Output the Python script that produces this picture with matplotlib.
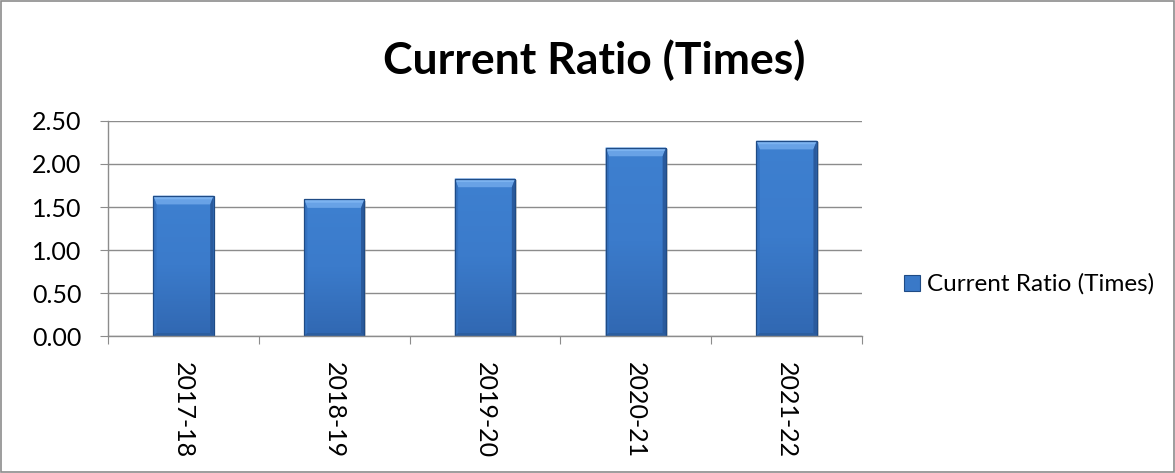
import matplotlib
matplotlib.use("Agg")
import matplotlib.pyplot as plt
from matplotlib.patches import Polygon, Rectangle
from matplotlib.colors import LinearSegmentedColormap
import numpy as np

years = ["2017-18", "2018-19", "2019-20", "2020-21", "2021-22"]
current_ratio = [1.63, 1.59, 1.83, 2.19, 2.27]
series_name = "Current Ratio (Times)"
title = "Current Ratio (Times)"
y_ticks = [0.0, 0.5, 1.0, 1.5, 2.0, 2.5]

plt.rcParams["font.family"] = ["Lato", "DejaVu Sans"]

fig = plt.figure(figsize=(11.75, 4.73), dpi=100)
ax = fig.add_axes([0.0919, 0.2896, 0.6417, 0.4546])

x = np.arange(len(years))
bar_w = 0.40
face = "#3A79C8"
bars = ax.bar(x, current_ratio, width=bar_w, color=face, edgecolor="none", zorder=3)

# soft shadow to the right of each bar
for b in bars:
    ax.add_patch(Rectangle((b.get_x() + 0.012, 0), b.get_width(), b.get_height() - 0.02,
                           facecolor="#9A9A9A", edgecolor="none", alpha=0.45, zorder=2.5))

# vertical gradient on each bar face
grad = LinearSegmentedColormap.from_list("face", ["#3168B2", "#3B7BCB", "#3E80D0"])
for b in bars:
    l, w, h = b.get_x(), b.get_width(), b.get_height()
    im = ax.imshow(np.linspace(0, 1, 64).reshape(-1, 1), cmap=grad, aspect="auto",
                   extent=(l, l + w, 0, h), origin="lower", zorder=3.2)
    im.set_clip_path(b)

# bevelled facets on each bar
bx, by_top, by_bot = 0.022, 0.10, 0.035
for xi, v in zip(x, current_ratio):
    l, r = xi - bar_w / 2, xi + bar_w / 2
    facets = [
        ([(l, v), (r, v), (r - bx, v - by_top), (l + bx, v - by_top)], "#68A2E6"),
        ([(l, 0), (l, v), (l + bx, v - by_top), (l + bx, by_bot)], "#3572C0"),
        ([(r, 0), (r, v), (r - bx, v - by_top), (r - bx, by_bot)], "#2A5A9C"),
        ([(l, 0), (r, 0), (r - bx, by_bot), (l + bx, by_bot)], "#2C5E9F"),
    ]
    for pts, c in facets:
        ax.add_patch(Polygon(pts, closed=True, facecolor=c, edgecolor="none", zorder=4))
    # brighter strip along the top edge
    ax.add_patch(Polygon([(l, v), (r, v), (r - bx * 0.5, v - by_top * 0.4),
                          (l + bx * 0.5, v - by_top * 0.4)], closed=True,
                         facecolor="#7CB3F0", edgecolor="none", zorder=4.1))
    ax.add_patch(Rectangle((l, 0), bar_w, v, facecolor="none", edgecolor="#1F4B85",
                           linewidth=0.9, zorder=5))

ax.set_xlim(-0.5, len(years) - 0.5)
ax.set_ylim(0, 2.5)
ax.set_yticks(y_ticks)
ax.set_yticklabels([f"{t:.2f}" for t in y_ticks], fontsize=18)
ax.yaxis.grid(True, color="#8C8C8C", linewidth=1.0, zorder=0)
ax.set_axisbelow(True)

ax.set_xticks(np.arange(-0.5, len(years)), minor=False)
ax.set_xticklabels([])
ax.set_xticks(x, minor=True)
ax.set_xticklabels(years, minor=True, rotation=270, fontsize=18)
ax.tick_params(axis="x", which="major", length=6, color="#8C8C8C", direction="out")
ax.tick_params(axis="x", which="minor", length=0, pad=19)
ax.tick_params(axis="y", length=6, color="#8C8C8C", direction="out", pad=13)

for s in ["top", "right"]:
    ax.spines[s].set_visible(False)
for s in ["left", "bottom"]:
    ax.spines[s].set_color("#8C8C8C")
    ax.spines[s].set_linewidth(1.0)
ax.spines["bottom"].set_zorder(6)

fig.text(0.5055, 0.873, title, ha="center", va="center", fontsize=32, fontweight="bold")

# legend
fig.patches.append(Rectangle((0.7695, 0.384), 0.0136, 0.034, transform=fig.transFigure,
                             facecolor=face, edgecolor="#1F4B85", linewidth=0.8))
fig.text(0.789, 0.40, series_name, ha="left", va="center", fontsize=17.5)

# outer frame
fig.patches.append(Rectangle((0.001, 0.002), 0.998, 0.996, transform=fig.transFigure,
                             facecolor="none", edgecolor="#8C8C8C", linewidth=1.2))

fig.savefig("out.png", dpi=100)
